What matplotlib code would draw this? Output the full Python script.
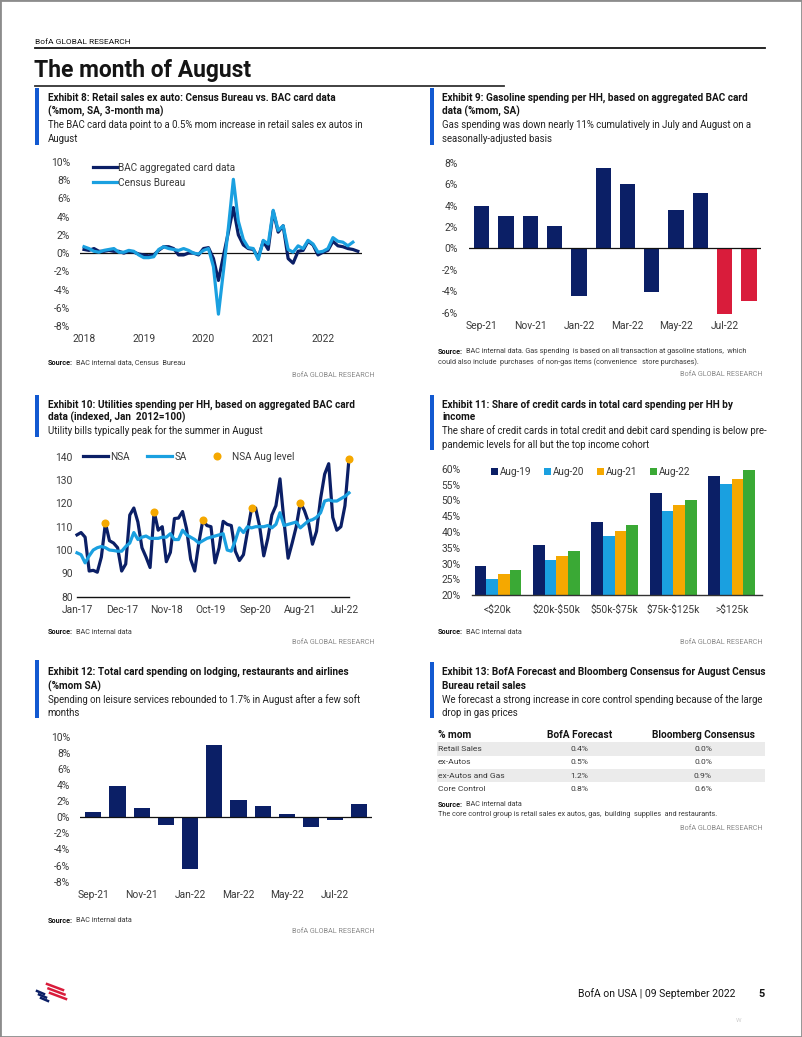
import matplotlib
matplotlib.use('Agg')
import matplotlib.pyplot as plt
from matplotlib.patches import Rectangle
from matplotlib.lines import Line2D

# ---------------- data ----------------
# Exhibit 8: retail sales ex auto, %mom 3mma, Jan-2018 .. Aug-2022
bac_card = [0.4, 0.3, 0.5, 0.2, 0.2, 0.3, 0.2, 0.2, 0.0, 0.2, 0.1, -0.1,
            -0.2, -0.3, -0.2, 0.3, 0.7, 0.7, 0.5, -0.2, -0.2, 0.0, 0.0, -0.2,
            0.5, 0.6, -0.6, -3.0, -0.3, 2.3, 5.0, 2.0, 0.9, 0.5, 0.4, -0.5,
            1.3, 0.4, 4.6, 2.3, 3.0, -0.6, -1.1, 0.2, 0.3, 1.3, 0.9, -0.2,
            0.1, 0.3, 1.3, 0.8, 0.7, 0.5, 0.4, 0.2]
census = [0.7, 0.5, 0.2, 0.1, 0.3, 0.4, 0.5, 0.1, 0.1, 0.3, 0.2, -0.2,
          -0.5, -0.5, -0.4, 0.4, 0.7, 0.5, 0.4, 0.3, 0.5, 0.3, 0.0, -0.1,
          0.3, 0.5, -1.5, -6.7, -2.0, 2.8, 8.1, 3.5, 1.5, 0.6, 0.5, -0.7,
          1.4, 1.0, 4.7, 2.5, 3.0, 0.4, 0.1, 0.8, 0.5, 1.4, 1.0, 0.1,
          0.2, 0.5, 1.7, 1.3, 1.2, 0.8, 1.2]
years8 = [2018, 2019, 2020, 2021, 2022]

# Exhibit 9: gasoline spending per HH, %mom SA
months = ['Sep-21', 'Oct-21', 'Nov-21', 'Dec-21', 'Jan-22', 'Feb-22',
          'Mar-22', 'Apr-22', 'May-22', 'Jun-22', 'Jul-22', 'Aug-22']
gas = [4.0, 3.0, 3.0, 2.05, -4.4, 7.55, 6.05, -4.1, 3.55, 5.15, -6.1, -4.95]
gas_highlight = ['Jul-22', 'Aug-22']

# Exhibit 10: utilities spending index, Jan-2017 .. Aug-2022
nsa = [106.5, 107.5, 105.5, 91, 91.3, 90.5, 97, 111.5, 104, 103, 101, 91,
       94, 115, 118, 112, 101, 97, 92.5, 116.5, 108.5, 110, 95, 99,
       113.5, 113.7, 116.5, 109, 96, 91, 103, 112.8, 110.5, 110, 94.5, 101,
       112.3, 111, 110.5, 99.5, 95.5, 98, 108, 117.8, 118, 110, 97.5, 105,
       115, 119, 130.5, 112, 96.5, 103, 110, 120.3, 117, 112, 102.5, 108,
       122, 132.5, 137, 114, 108.5, 110, 119, 139.2]
sa = [98.8, 98, 94.5, 97.5, 100, 101, 101.5, 101, 100, 99.8, 99.5, 99.5,
      101.5, 103, 107.5, 104.5, 105.5, 106, 105, 105, 105, 105.5, 105.5, 107,
      104.5, 104.5, 108.5, 106.5, 105.5, 104.5, 103, 104, 105, 105.5, 106, 106.5,
      107, 100, 99.5, 104, 109.5, 107.5, 110, 109.5, 110, 110, 110, 110.5,
      109.5, 111, 116, 110.5, 111, 111.5, 112, 109.5, 111, 112.5, 113, 114,
      116, 121, 121.5, 121, 121, 122, 123, 124.5]
util_ticks = ['Jan-17', 'Dec-17', 'Nov-18', 'Oct-19', 'Sep-20', 'Aug-21', 'Jul-22']

# Exhibit 11: share of credit cards in card spending (%)
income = ['<$20k', '$20k-$50k', '$50k-$75k', '$75k-$125k', '>$125k']
share_years = ['Aug-19', 'Aug-20', 'Aug-21', 'Aug-22']
share = [[29.2, 35.8, 43.3, 52.2, 57.6],
         [25.1, 31.2, 38.7, 46.7, 55.1],
         [26.6, 32.5, 40.2, 48.5, 56.9],
         [28.0, 33.9, 42.1, 50.1, 59.5]]

# Exhibit 12: lodging, restaurants and airlines, %mom SA
leisure = [0.6, 3.9, 1.2, -0.9, -6.4, 9.0, 2.2, 1.35, 0.4, -1.2, -0.4, 1.7]

# Exhibit 13: table
tbl_rows = ['Retail Sales', 'ex-Autos', 'ex-Autos and Gas', 'Core Control']
bofa_fc = ['0.4%', '0.5%', '1.2%', '0.8%']
bbg_cons = ['0.0%', '0.0%', '0.9%', '0.6%']

# ---------------- style ----------------
plt.rcParams['font.family'] = ['Roboto', 'DejaVu Sans']
plt.rcParams['text.parse_math'] = False

NAVY = '#0b1f66'
LBLUE = '#1aa0e0'
ORANGE = '#f5a800'
GREEN = '#3aa935'
RED = '#d91c3b'
BARBLUE = '#1259d1'
INK = '#141414'
GREY = '#3a3a3a'
TICK = 7.4
LEG = 7.2

W, H = 802, 1037
fig = plt.figure(figsize=(W / 100, H / 100), dpi=100)
renderer = fig.canvas.get_renderer()


def T(x, y, s, size, bold=False, color=INK, ha='left'):
    return fig.text(x / W, 1 - y / H, s, fontsize=size,
                    fontweight='bold' if bold else 'normal', color=color,
                    ha=ha, va='center')


def hline(x0, x1, y, lw=1.2, color=INK):
    fig.add_artist(Line2D([x0 / W, x1 / W], [1 - y / H] * 2, color=color, lw=lw))


def box(x0, y0, x1, y1, color):
    fig.add_artist(Rectangle((x0 / W, 1 - y1 / H), (x1 - x0) / W, (y1 - y0) / H,
                             transform=fig.transFigure, color=color, lw=0))


def add_ax(x0, y0, x1, y1):
    return fig.add_axes([x0 / W, 1 - y1 / H, (x1 - x0) / W, (y1 - y0) / H])


def exhibit(x, y0, y1, title, sub, ys):
    box(x, y0, x + 4, y1, BARBLUE)
    for s, yy in zip(title, ys):
        T(x + 12.5, yy, s, 7.2, bold=True)
    for s, yy in zip(sub, ys[len(title):]):
        T(x + 12.5, yy, s, 6.9, color='#222222')


def source(x, y, s, extra=None):
    t = T(x, y, 'Source:', 5.2, bold=True)
    bb = t.get_window_extent(renderer)
    T(bb.x1 + 4, y, s, 5.2, color=GREY)
    if extra:
        T(x, y + 10, extra, 5.2, color=GREY)


def bofa(xr, y):
    T(xr, y, 'BofA GLOBAL RESEARCH', 5.2, color='#8a8a8a', ha='right')


def style(ax, ypad, xpad):
    for s in ax.spines.values():
        s.set_visible(False)
    ax.tick_params(length=0, labelsize=TICK, colors=GREY)
    ax.tick_params(axis='y', pad=ypad)
    ax.tick_params(axis='x', pad=xpad)
    ax.set_facecolor('none')


# ---------------- page chrome ----------------
fig.add_artist(Rectangle((0, 0), 1, 1, transform=fig.transFigure, fill=False,
                         ec='#8c8c8c', lw=2))
T(35, 41.5, 'BofA GLOBAL RESEARCH', 6.0)
hline(35, 765, 48, lw=1.3)
T(34, 71, 'The month of August', 16.5, bold=True)
hline(35, 504, 86, lw=1.3, color='#333333')

# ---------------- Exhibit 8 ----------------
exhibit(35, 88, 145,
        ['Exhibit 8: Retail sales ex auto: Census Bureau vs. BAC card data',
         '(%mom, SA, 3-month ma)'],
        ['The BAC card data point to a 0.5% mom increase in retail sales ex autos in',
         'August'],
        [98, 111.5, 125, 138.5])
ax = add_ax(80, 162, 362, 326)
x8 = [2018 + i / 12 for i in range(len(bac_card))]
ax.axhline(0, color='#111111', lw=0.9, zorder=1)
ax.plot(x8, bac_card, color=NAVY, lw=2.3, label='BAC aggregated card data', clip_on=False)
ax.plot(x8[:len(census)], census, color=LBLUE, lw=2.3, label='Census Bureau', clip_on=False)
ax.set_xlim(2017.933, 2022.653)
ax.set_ylim(-8, 10)
ax.set_yticks(range(-8, 11, 2))
ax.set_yticklabels([f'{t}%' for t in range(-8, 11, 2)])
ax.set_xticks(years8)
ax.set_xticklabels([str(y) for y in years8])
style(ax, 7, 6)
ax.legend(loc='upper left', bbox_to_anchor=(0.045, 0.995), frameon=False,
          fontsize=LEG, handlelength=2.4, handletextpad=0.15,
          labelspacing=0.5, borderpad=0, borderaxespad=0, labelcolor=GREY)
source(47.5, 363, 'BAC internal data, Census  Bureau')
bofa(374, 375.7)

# ---------------- Exhibit 9 ----------------
exhibit(430, 88, 145,
        ['Exhibit 9: Gasoline spending per HH, based on aggregated BAC card',
         'data (%mom, SA)'],
        ['Gas spending was down nearly 11% cumulatively in July and August on a',
         'seasonally-adjusted basis'],
        [98, 111.5, 125, 138.5])
ax = add_ax(469, 162.7, 761, 312.7)
cols9 = [RED if m in gas_highlight else NAVY for m in months]
ax.bar(range(len(gas)), gas, width=0.63, color=cols9, clip_on=False, zorder=2)
ax.axhline(0, color='#111111', lw=0.9, zorder=3)
ax.set_xlim(-0.52, 11.49)
ax.set_ylim(-6, 8)
ax.set_yticks(range(-6, 9, 2))
ax.set_yticklabels([f'{t}%' for t in range(-6, 9, 2)])
ax.set_xticks(range(0, len(months), 2))
ax.set_xticklabels(months[::2])
style(ax, 8, 6)
source(437.5, 351.7,
       'BAC internal data. Gas spending  is based on all transaction at gasoline stations,  which',
       'could also include  purchases  of non-gas items (convenience   store purchases).')
bofa(763, 374.3)

# ---------------- Exhibit 10 ----------------
exhibit(35, 395, 437,
        ['Exhibit 10: Utilities spending per HH, based on aggregated BAC card',
         'data (indexed, Jan  2012=100)'],
        ['Utility bills typically peak for the summer in August'],
        [404.5, 417.5, 431])
ax = add_ax(77, 456.7, 349, 596.7)
xm = list(range(len(nsa)))
aug_idx = [i for i in xm if i % 12 == 7]
ax.plot(xm, nsa, color=NAVY, lw=2.3, label='NSA', clip_on=False, zorder=2)
ax.plot(xm, sa, color=LBLUE, lw=2.3, label='SA', clip_on=False, zorder=3)
ax.plot(aug_idx, [nsa[i] for i in aug_idx], 'o', color=ORANGE, ms=5.8,
        mec='none', label='NSA Aug level', clip_on=False, zorder=4)
ax.set_xlim(0, 67)
ax.set_ylim(80, 140)
ax.set_yticks(range(80, 141, 10))
ax.set_xticks(range(0, 67, 11))
ax.set_xticklabels(util_ticks)
style(ax, 3, 6)
ax.spines['bottom'].set_visible(True)
ax.spines['bottom'].set_color('#111111')
ax.spines['bottom'].set_linewidth(1.0)
ax.legend(loc='center left', bbox_to_anchor=(0.022, 1.0), ncol=3, frameon=False,
          fontsize=LEG, handlelength=2.5, handletextpad=0.2, columnspacing=1.8,
          borderpad=0, borderaxespad=0, labelcolor=GREY)
source(47.5, 632.3, 'BAC internal data')
bofa(374, 642.3)

# ---------------- Exhibit 11 ----------------
exhibit(430, 395, 450,
        ['Exhibit 11: Share of credit cards in total card spending per HH by',
         'income'],
        ['The share of credit cards in total credit and debit card spending is below pre-',
         'pandemic levels for all but the top income cohort'],
        [404.5, 417.5, 431, 444.5])
ax = add_ax(471.7, 468.7, 761.7, 595.3)
cols11 = [NAVY, LBLUE, ORANGE, GREEN]
for j, (yr, vals) in enumerate(zip(share_years, share)):
    ax.bar([i + (j - 1.5) * 0.2 for i in range(len(income))], vals, width=0.2,
           color=cols11[j], label=yr)
ax.set_xlim(-0.45, 4.515)
ax.set_ylim(20, 60)
ax.set_yticks(range(20, 61, 5))
ax.set_yticklabels([f'{t}%' for t in range(20, 61, 5)])
ax.set_xticks(range(len(income)))
ax.set_xticklabels(income)
style(ax, 8, 6.5)
ax.spines['bottom'].set_visible(True)
ax.spines['bottom'].set_color('#333333')
ax.spines['bottom'].set_linewidth(1.0)
ax.legend(loc='center left', bbox_to_anchor=(0.066, 0.975), ncol=4, frameon=False,
          fontsize=LEG, handlelength=0.75, handleheight=0.75, handletextpad=0.2,
          columnspacing=1.2, borderpad=0, borderaxespad=0, labelcolor=GREY)
source(437.5, 632.3, 'BAC internal data')
bofa(763, 642.3)

# ---------------- Exhibit 12 ----------------
exhibit(35, 660, 718,
        ['Exhibit 12: Total card spending on lodging, restaurants and airlines',
         '(%mom SA)'],
        ['Spending on leisure services rebounded to 1.7% in August after a few soft',
         'months'],
        [672, 686, 700, 713.5])
ax = add_ax(80, 736.7, 371.7, 881.7)
ax.bar(range(len(leisure)), leisure, width=0.67, color=NAVY, zorder=2)
ax.axhline(0, color='#111111', lw=0.9, zorder=3)
ax.set_xlim(-0.55, 11.51)
ax.set_ylim(-8, 10)
ax.set_yticks(range(-8, 11, 2))
ax.set_yticklabels([f'{t}%' for t in range(-8, 11, 2)])
ax.set_xticks(range(0, len(months), 2))
ax.set_xticklabels(months[::2])
style(ax, 7, 6)
source(47.5, 921, 'BAC internal data')
bofa(374, 931.7)

# ---------------- Exhibit 13 ----------------
exhibit(430, 662, 718,
        ['Exhibit 13: BofA Forecast and Bloomberg Consensus for August Census',
         'Bureau retail sales'],
        ['We forecast a strong increase in core control spending because of the large',
         'drop in gas prices'],
        [672, 686, 700, 713.5])
T(437.5, 735, '% mom', 7.3, bold=True)
T(579.3, 735, 'BofA Forecast', 7.3, bold=True, ha='center')
T(703, 735, 'Bloomberg Consensus', 7.3, bold=True, ha='center')
row_y = [749, 762.3, 775.7, 789]
for i, (lab, a, b) in enumerate(zip(tbl_rows, bofa_fc, bbg_cons)):
    if i % 2 == 0:
        box(437, row_y[i] - 6.7, 765, row_y[i] + 6.7, '#ebebeb')
    T(437.5, row_y[i], lab, 6.1, color=GREY)
    T(579.3, row_y[i], a, 6.1, color=GREY, ha='center')
    T(703, row_y[i], b, 6.1, color=GREY, ha='center')
source(437.5, 805, 'BAC internal data',
       'The core control group is retail sales ex autos, gas,  building  supplies  and restaurants.')
bofa(763, 828.3)

# ---------------- footer ----------------
for i in range(3):
    fig.add_artist(Line2D([(37 + i * 2) / W, (44 + i * 2) / W],
                          [1 - (991 + i * 3.5) / H, 1 - (994 + i * 3.5) / H],
                          color=NAVY, lw=1.8))
    fig.add_artist(Line2D([(47 + i * 1.5) / W, (63 + i * 1.5) / W],
                          [1 - (984 + i * 4.5) / H, 1 - (990 + i * 4.5) / H],
                          color=RED, lw=1.8))
T(735, 994, 'BofA on USA | 09 September 2022', 7.5, ha='right')
T(762, 994, '5', 7.8, bold=True, ha='center')
T(739, 1020, 'W', 4.5, color='#cfcfcf', ha='center')

fig.savefig('out.png', dpi=100)
